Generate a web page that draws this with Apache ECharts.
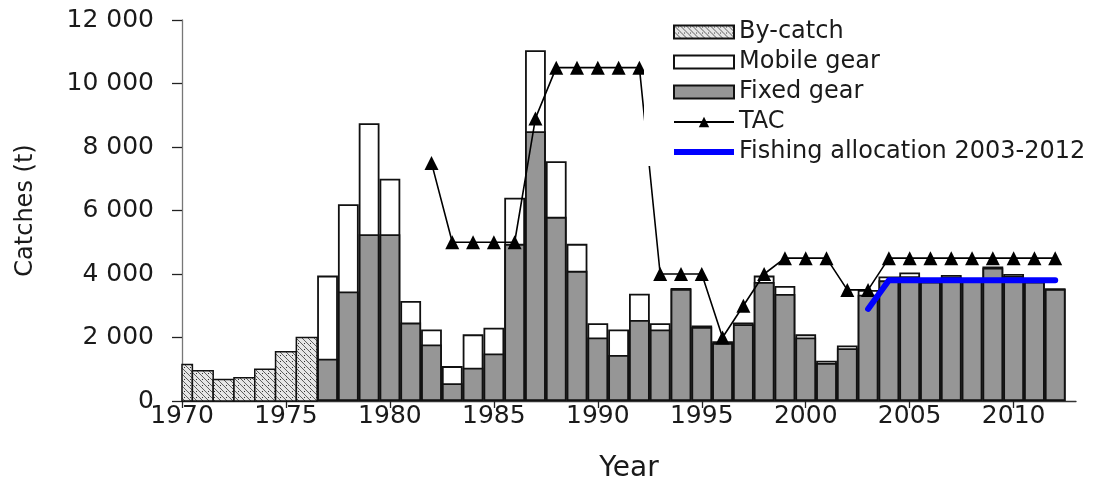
<!DOCTYPE html>
<html>
<head>
<meta charset="utf-8">
<script src="https://cdn.jsdelivr.net/npm/echarts@6/dist/echarts.min.js"></script>
<style>
  html, body { margin: 0; padding: 0; background: #fff; }
  #chart { width: 1096px; height: 494px; }
</style>
</head>
<body>
<div id="chart"></div>
<script>
// Catches by gear type (t) and the TAC history
const byCatchYears = [1970, 1971, 1972, 1973, 1974, 1975, 1976];
const byCatch = [1150, 950, 680, 730, 1000, 1550, 2000];

const gearYears = [1977, 1978, 1979, 1980, 1981, 1982, 1983, 1984, 1985, 1986,
                   1987, 1988, 1989, 1990, 1991, 1992, 1993, 1994, 1995, 1996,
                   1997, 1998, 1999, 2000, 2001, 2002, 2003, 2004, 2005, 2006,
                   2007, 2008, 2009, 2010, 2011, 2012];
const fixedGear = [1330, 3450, 5250, 5250, 2470, 1780, 560, 1050, 1500, 4950,
                   8500, 5800, 4100, 2000, 1450, 2550, 2250, 3530, 2330, 1830,
                   2420, 3750, 3370, 2000, 1200, 1660, 3350, 3800, 3930, 3760,
                   3910, 3770, 4200, 3940, 3760, 3530];
const mobileGear = [2620, 2750, 3500, 1750, 680, 470, 540, 1050, 810, 1450,
                    2550, 1750, 850, 450, 800, 830, 200, 30, 50, 50,
                    50, 200, 250, 100, 70, 90, 150, 120, 120, 40,
                    60, 30, 40, 60, 40, 20];

const tacYears = [1982, 1983, 1984, 1985, 1986, 1987, 1988, 1989, 1990, 1991,
                  1992, 1993, 1994, 1995, 1996, 1997, 1998, 1999, 2000, 2001,
                  2002, 2003, 2004, 2005, 2006, 2007, 2008, 2009, 2010, 2011, 2012];
const tac = [7500, 5000, 5000, 5000, 5000, 8900, 10500, 10500, 10500, 10500,
             10500, 4000, 4000, 4000, 2000, 3000, 4000, 4500, 4500, 4500,
             3500, 3500, 4500, 4500, 4500, 4500, 4500, 4500, 4500, 4500, 4500];

const allocationYears = [2003, 2004, 2005, 2006, 2007, 2008, 2009, 2010, 2011, 2012];
const allocation = [2900, 3800, 3800, 3800, 3800, 3800, 3800, 3800, 3800, 3800];

const yearTicks = [1970, 1975, 1980, 1985, 1990, 1995, 2000, 2005, 2010];

const pairs = (xs, ys) => xs.map((x, i) => [x, ys[i]]);
// mobile gear sits on top of fixed gear: draw the full column in white,
// then the fixed-gear part over it in grey
const gearTotal = fixedGear.map((f, i) => f + mobileGear[i]);

// diagonal hatch used for the by-catch bars
function hatchPattern() {
  const c = document.createElement('canvas');
  c.width = 6; c.height = 6;
  const g = c.getContext('2d');
  g.fillStyle = '#e6e6e6';
  g.fillRect(0, 0, 6, 6);
  g.strokeStyle = '#5e5e5e';
  g.lineWidth = 1;
  g.beginPath();
  g.moveTo(-3, 3); g.lineTo(3, 9);
  g.moveTo(0, 0); g.lineTo(6, 6);
  g.moveTo(3, -3); g.lineTo(9, 3);
  g.stroke();
  g.fillStyle = '#333';
  g.fillRect(4, 1, 1, 1);
  return c;
}

// one-year-wide column, cut off at the plot edges
function yearColumn(params, api) {
  const year = api.value(0);
  const base = api.coord([year - 0.5, 0]);
  const top = api.coord([year + 0.5, api.value(1)]);
  const cs = params.coordSys;
  const shape = echarts.graphic.clipRectByRect(
    { x: base[0], y: top[1], width: top[0] - base[0], height: base[1] - top[1] },
    { x: cs.x, y: cs.y, width: cs.width, height: cs.height }
  );
  return shape && { type: 'rect', shape: shape, style: api.style() };
}

const FONT = 'DejaVu Sans';
const TEXT = '#1a1a1a';
const fmtThousands = v => String(v).replace(/\B(?=(\d{3})+(?!\d))/g, ' ');

const chart = echarts.init(document.getElementById('chart'), null, { renderer: 'canvas' });

chart.setOption({
  backgroundColor: '#fff',
  animation: false,
  textStyle: { fontFamily: FONT, color: TEXT },
  grid: { left: 182, right: 20, top: 20, bottom: 93, outerBoundsMode: 'none' },
  legend: {
    orient: 'vertical',
    left: 644,
    top: 16,
    padding: [4, 4, 2, 29],
    backgroundColor: '#fff',
    itemWidth: 60,
    itemHeight: 13,
    itemGap: 6,
    z: 10,
    textStyle: { fontFamily: FONT, fontSize: 24, lineHeight: 24, color: TEXT },
    data: [
      { name: 'By-catch', icon: 'rect' },
      { name: 'Mobile gear', icon: 'rect' },
      { name: 'Fixed gear', icon: 'rect' },
      'TAC',
      { name: 'Fishing allocation 2003-2012', icon: 'path://M0,0H60V6H0Z' }
    ]
  },
  xAxis: [
    {
      type: 'value',
      min: 1970,
      max: 2013,
      interval: 5,
      position: 'bottom',
      splitLine: { show: false },
      axisLine: { show: true, lineStyle: { color: '#333', width: 1.3 } },
      axisTick: { show: true, customValues: yearTicks, length: 7, lineStyle: { color: '#222', width: 1.3 } },
      axisLabel: {
        customValues: yearTicks, margin: 3, fontSize: 25, color: TEXT, fontFamily: FONT,
        formatter: v => String(v)
      },
      name: 'Year',
      nameLocation: 'middle',
      nameGap: 54,
      nameTextStyle: { fontSize: 28, color: TEXT, fontFamily: FONT }
    },
    {
      type: 'value',
      min: 1970,
      max: 2013,
      interval: 5,
      position: 'bottom',
      splitLine: { show: false },
      axisLine: { show: false },
      axisTick: { show: true, inside: true, customValues: yearTicks, length: 7, lineStyle: { color: '#222', width: 1.3 } },
      axisLabel: { show: false }
    }
  ],
  yAxis: {
    type: 'value',
    min: 0,
    max: 12000,
    interval: 2000,
    splitLine: { show: false },
    axisLine: { show: true, lineStyle: { color: '#777', width: 1.3 } },
    axisTick: { show: true, length: 10, lineStyle: { color: '#222', width: 1.3 } },
    axisLabel: { margin: 28, fontSize: 25, color: TEXT, fontFamily: FONT, formatter: fmtThousands },
    name: 'Catches (t)',
    nameLocation: 'middle',
    nameGap: 144,
    nameTextStyle: { fontSize: 24, color: TEXT, fontFamily: FONT }
  },
  series: [
    {
      name: 'By-catch',
      type: 'custom',
      renderItem: yearColumn,
      encode: { x: 0, y: 1 },
      data: pairs(byCatchYears, byCatch),
      itemStyle: {
        color: { image: hatchPattern(), repeat: 'repeat' },
        borderColor: '#111',
        borderWidth: 1.5
      }
    },
    {
      name: 'Mobile gear',
      type: 'bar',
      barWidth: '100%',
      barGap: '-100%',
      data: pairs(gearYears, gearTotal),
      itemStyle: { color: '#ffffff', borderColor: '#111', borderWidth: 1.8 }
    },
    {
      name: 'Fixed gear',
      type: 'bar',
      barWidth: '100%',
      barGap: '-100%',
      data: pairs(gearYears, fixedGear),
      itemStyle: { color: '#969696', borderColor: '#111', borderWidth: 1.8 }
    },
    {
      name: 'TAC',
      type: 'line',
      data: pairs(tacYears, tac),
      symbol: 'triangle',
      symbolSize: 14,
      itemStyle: { color: '#000' },
      lineStyle: { color: '#000', width: 1.6 },
      z: 3
    },
    {
      name: 'Fishing allocation 2003-2012',
      type: 'line',
      data: pairs(allocationYears, allocation),
      symbol: 'none',
      itemStyle: { color: '#0000ff' },
      lineStyle: { color: '#0000ff', width: 6, cap: 'round', join: 'round' },
      z: 4
    }
  ]
});
</script>
</body>
</html>
